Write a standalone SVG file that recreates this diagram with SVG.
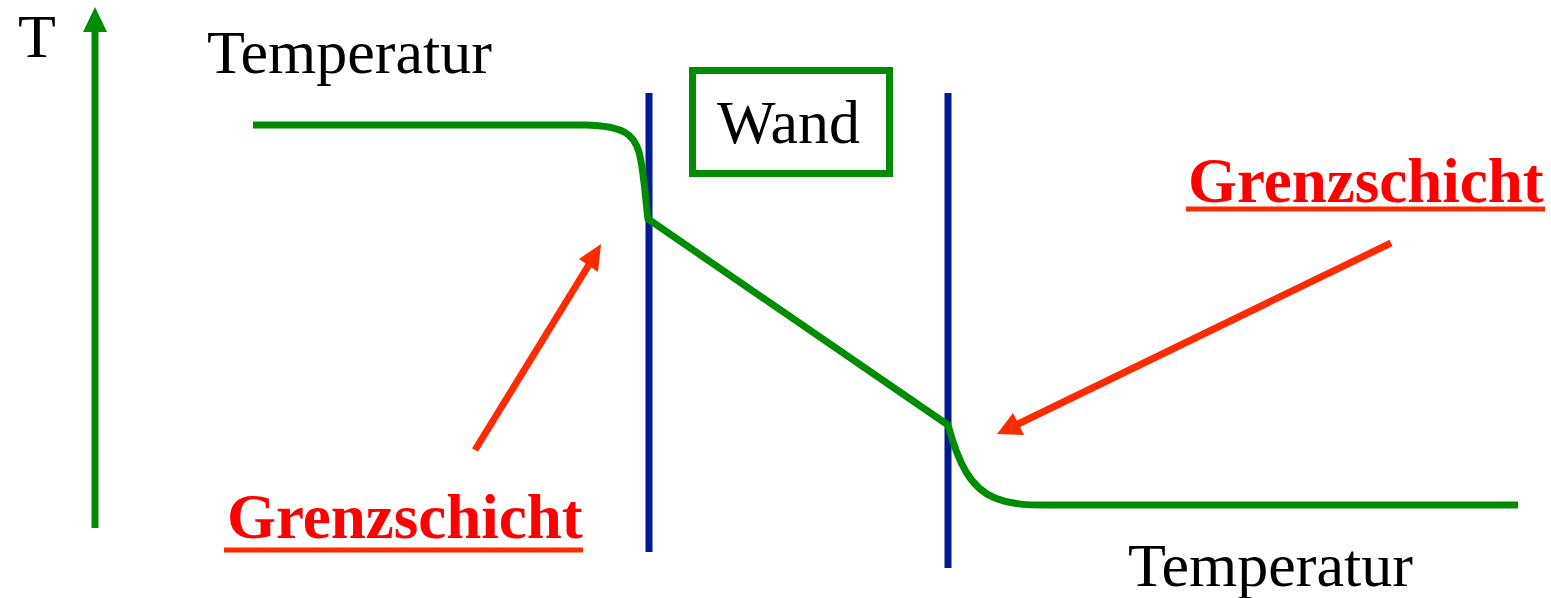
<svg xmlns="http://www.w3.org/2000/svg" width="1551" height="598" viewBox="0 0 1551 598">
<style>
.lbl{font-family:"Liberation Serif","Times New Roman",serif;font-size:62px;fill:#000}
.red{font-family:"Liberation Serif","Times New Roman",serif;font-size:63px;font-weight:bold;fill:#FF0000}
.ul{stroke:#FF2A00;stroke-width:5}
.green{stroke:#008C00;stroke-width:7;fill:none}
.wall{stroke:#001A8F;stroke-width:7}
.arrow{stroke:#FF2A00;stroke-width:7}
.head{fill:#FF2A00}
</style>
<g id="axis">
<line class="green" x1="95" y1="528" x2="95" y2="28"/>
<polygon points="95,7 107,32 83,32" fill="#008C00"/>
<text class="lbl" x="18" y="57">T</text>
</g>
<g id="walls">
<line class="wall" x1="649" y1="93" x2="649" y2="552"/>
<line class="wall" x1="948" y1="93" x2="948" y2="568"/>
</g>
<g id="wand">
<rect x="692.5" y="70.5" width="197" height="103" fill="none" stroke="#008C00" stroke-width="7"/>
<text class="lbl" x="717" y="143">Wand</text>
</g>
<g id="curve">
<path class="green" d="M253,125 L585,125 C625,126 634,135 639,152 C644,172 645,195 648,219 L948,425 C958,462 970,488 995,498 C1012,505 1030,505 1045,505 L1518,505"/>
</g>
<g id="labels-temp">
<text class="lbl" x="207" y="73">Temperatur</text>
<text class="lbl" x="1128" y="586">Temperatur</text>
</g>
<g id="grenz-left">
<text class="red" x="227" y="538">Grenzschicht</text>
<line class="ul" x1="224" y1="550" x2="583" y2="550"/>
</g>
<g id="grenz-right">
<text class="red" x="1188" y="202">Grenzschicht</text>
<line class="ul" x1="1186" y1="209" x2="1545" y2="209"/>
</g>
<g id="connectors">
<line class="arrow" x1="475" y1="450" x2="590" y2="263"/>
<polygon class="head" points="601,244 598,272 579,259"/>
<line class="arrow" x1="1391" y1="243" x2="1016" y2="425"/>
<polygon class="head" points="997,434 1013,413 1024,435"/>
</g>
</svg>
